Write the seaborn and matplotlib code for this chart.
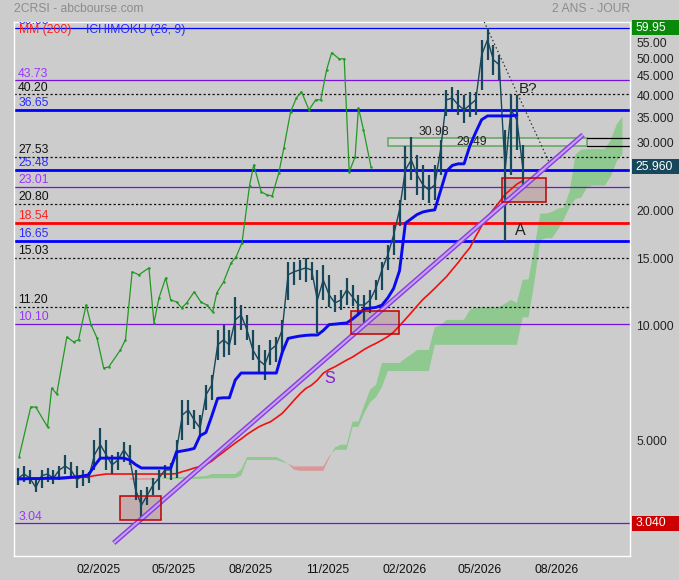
import matplotlib
matplotlib.use("Agg")
import matplotlib.pyplot as plt
import matplotlib.dates as mdates
import matplotlib.transforms as mtransforms
from matplotlib.patches import Rectangle
from matplotlib.ticker import NullLocator
import seaborn as sns
import pandas as pd
import numpy as np

# weekly price bars, starting 2024-10-28
first_week = "2024-10-28"
price_high = [4.24, 4.29, 4.19, 3.99, 4.19, 4.24, 4.19, 4.29, 4.59, 4.40,
              4.29, 4.19, 4.14, 5.02, 5.41, 5.02, 4.59, 4.67, 4.96, 4.88,
              4.19, 3.72, 3.79, 3.99, 4.19, 4.32, 4.37, 5.02, 6.39, 6.39,
              6.01, 5.84, 6.99, 7.42, 9.73, 10.03, 9.73, 11.87, 11.31, 10.65,
              9.73, 8.89, 8.63, 9.17, 9.33, 10.34, 14.66, 14.66, 14.84, 15.02,
              14.66, 13.97, 14.40, 13.56, 12.02, 12.39, 13.32, 12.76, 12.02, 12.02,
              12.39, 13.15, 14.66, 16.24, 18.31, 21.29, 29.40, 31.00, 27.91, 26.28,
              24.75, 26.28, 30.55, 41.29, 42.00, 41.29, 40.06, 40.70, 40.70, 55.80,
              59.95, 54.14, 50.97, 32.45, 40.20, 40.06, 29.64]
price_low = [3.83, 3.90, 3.86, 3.68, 3.77, 3.90, 3.86, 3.95, 4.09, 3.99,
             3.77, 3.81, 3.88, 4.19, 4.45, 4.19, 4.09, 4.19, 4.40, 4.32,
             3.50, 3.10, 3.39, 3.60, 3.72, 3.99, 3.95, 3.99, 5.02, 5.49,
             5.37, 5.18, 6.01, 6.39, 8.12, 8.25, 8.37, 8.89, 9.73, 9.17,
             8.12, 7.56, 7.20, 7.88, 8.02, 8.37, 11.66, 12.76, 13.15, 12.99,
             13.15, 9.56, 11.66, 11.18, 10.85, 10.98, 11.31, 11.25, 10.65, 10.15,
             10.78, 11.66, 12.39, 13.97, 15.29, 18.20, 21.29, 24.01, 21.94, 21.29,
             20.90, 21.29, 24.75, 35.30, 36.60, 35.51, 33.80, 35.10, 35.51, 41.29,
             49.46, 45.19, 43.85, 16.65, 24.75, 28.77, 23.30]
price_close = [3.99, 4.09, 3.99, 3.77, 4.05, 4.09, 3.99, 4.19, 4.29, 4.19,
               3.95, 4.05, 3.99, 4.59, 4.88, 4.59, 4.32, 4.45, 4.73, 4.50,
               3.72, 3.39, 3.60, 3.83, 3.99, 4.19, 4.19, 4.73, 5.84, 6.01,
               5.66, 5.39, 6.58, 6.99, 8.89, 9.17, 8.89, 10.34, 10.65, 9.73,
               8.63, 8.12, 7.88, 8.63, 8.89, 9.73, 13.56, 13.81, 13.97, 14.14,
               13.97, 11.66, 13.15, 12.02, 11.45, 11.66, 12.39, 11.87, 11.31, 11.31,
               11.66, 12.54, 13.97, 15.29, 17.24, 20.05, 25.50, 27.09, 24.75, 23.30,
               22.61, 23.30, 28.77, 38.88, 39.30, 37.72, 36.60, 37.72, 38.88, 50.97,
               55.80, 49.46, 48.00, 25.50, 36.60, 34.46, 25.96]

kijun = [3.97, 3.97, 3.98, 3.98, 3.98, 3.99, 3.99, 3.99, 4.00, 4.01,
         4.02, 4.04, 4.07, 4.30, 4.50, 4.50, 4.50, 4.50, 4.50, 4.45,
         4.33, 4.24, 4.24, 4.24, 4.24, 4.24, 4.24, 4.67, 4.70, 4.73,
         4.77, 5.15, 5.25, 5.80, 6.45, 6.47, 6.47, 7.20, 7.51, 7.51,
         7.51, 7.51, 7.51, 7.51, 7.51, 8.50, 9.25, 9.32, 9.38, 9.42,
         9.44, 9.44, 9.70, 10.05, 10.08, 10.12, 10.15, 10.40, 10.70, 11.05,
         11.10, 11.15, 11.30, 11.80, 12.50, 13.90, 18.50, 19.00, 19.50, 19.80,
         19.95, 20.05, 22.50, 25.30, 26.20, 26.45, 26.45, 29.50, 32.00, 34.50,
         35.29, 35.29, 35.29, 35.29, 35.29, 35.45]

mm200 = [3.99, 3.99, 3.98, 3.98, 3.98, 3.97, 3.97, 3.97, 3.98, 3.99,
         4.00, 4.01, 4.02, 4.05, 4.07, 4.09, 4.09, 4.09, 4.09, 4.09,
         4.09, 4.09, 4.09, 4.09, 4.09, 4.09, 4.09, 4.10, 4.15, 4.19,
         4.24, 4.28, 4.33, 4.42, 4.55, 4.67, 4.80, 4.93, 5.05, 5.19,
         5.31, 5.43, 5.52, 5.60, 5.74, 5.89, 6.12, 6.37, 6.62, 6.84,
         6.98, 7.20, 7.50, 7.67, 7.80, 7.96, 8.12, 8.27, 8.46, 8.66,
         8.83, 8.98, 9.16, 9.35, 9.61, 9.98, 10.38, 10.80, 11.25, 11.70,
         12.08, 12.50, 12.95, 13.41, 14.00, 14.60, 15.30, 15.97, 17.10, 18.20,
         19.20, 20.10, 21.00, 22.00, 22.70, 23.40, 23.90]

# ichimoku cloud, weeks 19 .. 103
cloud_first = 19
span_a = [3.95, 3.95, 3.95, 3.95, 3.95,
          3.97, 3.99, 4.00, 4.02, 4.02, 4.02, 4.02, 4.03, 4.04, 4.09,
          4.09, 4.09, 4.09, 4.09, 4.20, 4.53, 4.53, 4.53, 4.53, 4.53,
          4.53, 4.45, 4.35, 4.20, 4.17, 4.17, 4.17, 4.17, 4.17, 4.50,
          4.80, 4.88, 4.88, 5.61, 5.61, 6.20, 6.80, 7.00, 7.98, 7.98,
          7.98, 7.98, 8.20, 8.40, 8.63, 8.63, 8.63, 9.89, 10.00, 10.34,
          10.34, 10.34, 10.34, 10.98, 11.18, 11.18, 11.18, 11.18, 11.18, 11.40,
          11.66, 11.45, 13.15, 13.20, 16.00, 19.60, 19.60, 19.80, 20.20, 20.30,
          22.40, 28.00, 28.80, 28.90, 28.90, 28.90, 28.90, 30.50, 33.50, 35.10]
span_b = [3.99, 3.99, 3.99, 3.99, 3.99,
          3.97, 3.97, 3.97, 3.97, 3.97, 3.97, 3.97, 3.97, 3.98, 3.99,
          3.99, 3.99, 3.99, 3.99, 4.05, 4.45, 4.45, 4.45, 4.45, 4.45,
          4.45, 4.40, 4.35, 4.28, 4.28, 4.28, 4.28, 4.28, 4.28, 4.55,
          4.73, 4.73, 4.73, 5.43, 5.43, 5.90, 6.30, 6.50, 6.90, 7.60,
          7.60, 7.60, 7.60, 7.60, 7.60, 7.60, 7.60, 8.90, 8.90, 8.90,
          8.90, 8.90, 8.90, 8.90, 8.90, 8.90, 8.90, 8.90, 8.90, 8.90,
          8.90, 8.90, 10.50, 10.50, 13.00, 16.70, 16.90, 16.90, 17.80, 18.90,
          20.40, 21.40, 21.60, 23.00, 23.20, 23.20, 23.20, 24.50, 26.80, 28.00]

# green indicator line
green_dates = ["2024-10-29", "2024-11-12", "2024-11-18", "2024-12-02", "2024-12-07",
               "2024-12-13", "2024-12-25", "2025-01-02", "2025-01-08", "2025-01-17",
               "2025-01-23", "2025-01-30", "2025-02-07", "2025-02-13", "2025-02-27",
               "2025-03-05", "2025-03-13", "2025-03-21", "2025-04-02", "2025-04-08",
               "2025-04-14", "2025-04-22", "2025-04-28", "2025-05-05", "2025-05-11",
               "2025-05-17", "2025-05-26", "2025-06-03", "2025-06-10", "2025-06-17",
               "2025-06-22", "2025-06-30", "2025-07-09", "2025-07-15", "2025-07-22",
               "2025-07-31", "2025-08-05", "2025-08-14", "2025-08-21", "2025-08-27",
               "2025-09-04", "2025-09-10", "2025-09-18", "2025-09-25", "2025-10-01",
               "2025-10-10", "2025-10-18", "2025-10-24", "2025-10-31", "2025-11-06",
               "2025-11-15", "2025-11-21", "2025-11-27", "2025-12-04", "2025-12-08",
               "2025-12-14", "2025-12-23"]
green_vals = [4.53, 6.12, 6.12, 5.43, 6.86, 6.62, 9.33, 9.06, 9.17, 11.31,
              10.03, 9.28, 7.74, 7.79, 8.63, 9.17, 13.81, 13.56, 14.14, 10.15,
              11.80, 13.32, 11.66, 11.52, 11.11, 11.45, 12.24, 11.52, 11.31, 10.85,
              12.17, 12.99, 14.57, 15.11, 16.43, 23.16, 26.28, 22.34, 21.94, 21.80,
              25.05, 29.11, 36.16, 39.35, 40.80, 36.60, 38.88, 38.88, 46.57, 51.61,
              49.75, 49.75, 25.20, 27.58, 37.04, 32.45, 25.96]

level_values = [59.95, 43.73, 40.20, 36.65, 27.53, 25.48, 23.01, 20.80, 18.54, 16.65, 15.03, 11.20, 10.10, 3.04]
level_kinds = ["blue_thin", "purple", "dotted", "blue", "dotted", "blue", "purple", "dotted",
               "red", "blue", "dotted", "dotted", "purple", "purple"]

zones = [("2025-02-27", "2025-04-16", 3.11, 3.58),
         ("2025-11-29", "2026-01-25", 9.49, 10.91),
         ("2026-05-28", "2026-07-20", 20.99, 24.26)]
box_dates = ["2026-01-12", "2026-09-07"]
box_levels = [29.49, 30.98]
trend_dates = ["2025-02-19", "2026-09-02"]
trend_prices = [2.70, 31.5]
peak_dates = ["2026-05-07", "2026-07-25"]
peak_prices = [62.2, 26.28]

right_ticks = [5, 10, 15, 20, 30, 35, 40, 45, 50, 55]
right_labels = ["5.000", "10.000", "15.000", "20.000", "30.000", "35.000", "40.000", "45.000", "50.000", "55.00"]
month_ticks = ["2025-02-01", "2025-05-01", "2025-08-01", "2025-11-01", "2026-02-01", "2026-05-01", "2026-08-01"]
month_labels = ["02/2025", "05/2025", "08/2025", "11/2025", "02/2026", "05/2026", "08/2026"]
value_tags = [(59.95, "59.95", "#0a8a0a"), (25.96, "25.960", "#17475b"), (3.04, "3.040", "#cc0000")]

sns.set_theme(style="white")
plt.rcParams["font.family"] = ["Liberation Sans", "DejaVu Sans"]
BG = "#cccccc"
FS = 8.7
PRICE_COL = "#17475b"

weeks = pd.date_range(first_week, periods=len(price_close), freq="7D")
all_weeks = pd.date_range(first_week, periods=cloud_first + len(span_a), freq="7D")
cloud_weeks = all_weeks[cloud_first:]

fig = plt.figure(figsize=(6.79, 5.8), dpi=100, facecolor=BG)
ax = fig.add_axes([14 / 679, 1 - 556 / 580, 616 / 679, 534 / 580])
ax.set_facecolor(BG)
ax.set_yscale("log")

# cloud
a = np.array(span_a)
b = np.array(span_b)
ax.fill_between(cloud_weeks, a, b, where=a >= b, interpolate=True, color="#8fc98f", lw=0, zorder=1)
ax.fill_between(cloud_weeks, a, b, where=a < b, interpolate=True, color="#dc9696", lw=0, zorder=1)

# horizontal levels
styles = {
    "blue_thin": dict(color="#0000ff", lw=0.9, ls="-"),
    "purple": dict(color="#7a10e0", lw=0.9, ls="-"),
    "dotted": dict(color="#111111", lw=0.9, ls=(0, (1.8, 1.8))),
    "blue": dict(color="#0000ff", lw=2.0, ls="-"),
    "red": dict(color="#ff0000", lw=2.0, ls="-"),
}
label_colors = {"blue_thin": "#2b2bff", "purple": "#9a35ff", "dotted": "#111111",
                "blue": "#2b2bff", "red": "#ff2020"}
ybl = mtransforms.blended_transform_factory(ax.transAxes, ax.transData)
lab_tr = mtransforms.offset_copy(ybl, fig=fig, x=3, y=2.7, units="points")
for v, k in zip(level_values, level_kinds):
    ax.axhline(v, zorder=2, **styles[k])
    ax.text(0, v, f"{v:.2f}", transform=lab_tr, color=label_colors[k], fontsize=FS,
            va="baseline", ha="left", clip_on=True, zorder=6)

# zones
for d0, d1, lo, hi in zones:
    x0 = mdates.date2num(pd.Timestamp(d0))
    x1 = mdates.date2num(pd.Timestamp(d1))
    ax.add_patch(Rectangle((x0, lo), x1 - x0, hi - lo, facecolor="#b88a8a", alpha=0.45,
                           edgecolor="none", zorder=3))
    ax.add_patch(Rectangle((x0, lo), x1 - x0, hi - lo, facecolor="none",
                           edgecolor="#c00000", lw=1.1, zorder=5))

x_end = pd.Timestamp("2026-10-28")
bx0 = mdates.date2num(pd.Timestamp(box_dates[0]))
bx1 = mdates.date2num(pd.Timestamp(box_dates[1]))
ax.add_patch(Rectangle((bx0, box_levels[0]), bx1 - bx0, box_levels[1] - box_levels[0],
                       facecolor="#dcdcdc", alpha=0.6, edgecolor="#108a10", lw=1.1, zorder=2.5))
for v in box_levels:
    ax.plot([pd.Timestamp(box_dates[1]), x_end], [v, v], color="black", lw=0.9, zorder=2.5)

# moving average and kijun
sns.lineplot(x=weeks, y=mm200, ax=ax, color="#f01010", lw=1.2, estimator=None, zorder=4)
sns.lineplot(x=weeks[:len(kijun)], y=kijun, ax=ax, color="#0a0af0", lw=2.1, estimator=None, zorder=4.5)

# green indicator
sns.lineplot(x=pd.to_datetime(green_dates), y=green_vals, ax=ax, color="#229922", lw=0.9,
             estimator=None, marker="o", markersize=1.8, markeredgewidth=0, zorder=3.5)

# trend line S
ax.plot(pd.to_datetime(trend_dates), trend_prices, color="#8a3de0", lw=3.6,
        solid_capstyle="butt", zorder=4.2)
ax.plot(pd.to_datetime(trend_dates), trend_prices, color="#c4a3f2", lw=1.5,
        solid_capstyle="butt", zorder=4.3)

# price bars
ax.vlines(weeks, price_low, price_high, color=PRICE_COL, lw=1.6, zorder=4.1)
sns.lineplot(x=weeks, y=price_close, ax=ax, color=PRICE_COL, lw=1.0, estimator=None, zorder=4.1)

# peak dotted line
ax.plot(pd.to_datetime(peak_dates), peak_prices, color="#333333", lw=0.9,
        ls=(0, (1.2, 2.0)), zorder=4, clip_on=True)

# notes
ax.text(pd.Timestamp("2026-02-18"), 30.98, "30.98", fontsize=FS, color="#222222",
        va="bottom", ha="left", zorder=6)
ax.text(pd.Timestamp("2026-04-04"), 30.2, "29.49", fontsize=FS, color="#222222",
        va="center", ha="left", zorder=6)
ax.text(pd.Timestamp("2026-06-17"), 41.5, "B?", fontsize=11, color="#222222",
        va="center", ha="left", zorder=6)
ax.text(pd.Timestamp("2026-06-13"), 17.66, "A", fontsize=11.5, color="#222222",
        va="center", ha="left", zorder=6)
ax.text(pd.Timestamp("2025-10-28"), 7.25, "S", fontsize=11.5, color="#8020d0",
        va="center", ha="left", zorder=6)

ax.set_xlim(pd.Timestamp("2024-10-23"), x_end)
ax.set_ylim(2.497, 62.1)
ax.set_xlabel("")
ax.set_ylabel("")
ax.yaxis.tick_right()
ax.yaxis.set_minor_locator(NullLocator())
ax.set_yticks(right_ticks)
ax.set_yticklabels(right_labels)
ax.set_xticks(pd.to_datetime(month_ticks))
ax.set_xticklabels(month_labels)
ax.tick_params(axis="y", length=0, pad=4.5, labelsize=FS, labelcolor="#222222")
ax.tick_params(axis="x", length=0, pad=6, labelsize=FS, labelcolor="#111111")
for s in ax.spines.values():
    s.set_color("white")
    s.set_linewidth(1.0)

# right side value tags: coloured strip to the figure edge, white text
half = 1.046
for v, txt, fc in value_tags:
    ax.add_patch(Rectangle((1.003, v / half), 0.2, v * half - v / half, transform=ybl,
                           facecolor=fc, edgecolor="none", clip_on=False, zorder=7))
    ax.text(1.009, v, txt, transform=ybl, fontsize=FS, color="white", va="center",
            ha="left", zorder=8, clip_on=False)

# header texts
fig.text(14 / 679, 1 - 9 / 580, "2CRSI - abcbourse.com", fontsize=FS, color="#8c8c8c",
         va="center", ha="left")
fig.text(630 / 679, 1 - 9 / 580, "2 ANS - JOUR", fontsize=FS, color="#8c8c8c", va="center", ha="right")
fig.text(19 / 679, 1 - 30.5 / 580, "MM (200)", fontsize=FS, color="#ff2020", va="center", ha="left")
fig.text(86 / 679, 1 - 30.5 / 580, "ICHIMOKU (26, 9)", fontsize=FS, color="#2b2bff", va="center", ha="left")

fig.savefig("out.png", dpi=100, facecolor=BG)
